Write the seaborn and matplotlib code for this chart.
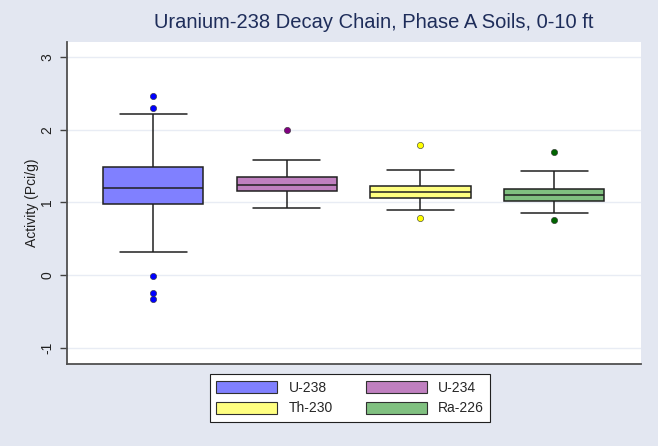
import numpy as np
import pandas as pd
import matplotlib
matplotlib.use("Agg")
import matplotlib.pyplot as plt
import seaborn as sns
from matplotlib.patches import Patch

# values (chosen so the box stats match)
nuclides = ["U-238", "U-234", "Th-230", "Ra-226"]
u238 = [-0.33, -0.24, -0.01, 0.32, 0.98, 1.05, 1.12, 1.16, 1.20,
        1.27, 1.35, 1.42, 1.49, 1.75, 2.22, 2.30, 2.46]
u234 = [0.92, 1.05, 1.155, 1.20, 1.24, 1.30, 1.35, 1.58, 1.99]
th230 = [0.78, 0.89, 1.06, 1.10, 1.14, 1.18, 1.22, 1.45, 1.79]
ra226 = [0.76, 0.85, 1.02, 1.06, 1.10, 1.14, 1.185, 1.43, 1.70]

fills = ["#8080FF", "#C080C0", "#FFFF80", "#80C080"]
flier_cols = ["#0000FF", "#800080", "#FFFF00", "#006400"]
bg = "#E3E7F1"

df = pd.DataFrame({
    "nuclide": np.repeat(nuclides, [len(u238), len(u234), len(th230), len(ra226)]),
    "activity": u238 + u234 + th230 + ra226,
})

sns.set_style("white")
plt.rcParams["font.family"] = ["Liberation Sans", "DejaVu Sans"]

fig = plt.figure(figsize=(6.58, 4.46), dpi=100)
fig.patch.set_facecolor(bg)
ax = fig.add_axes([67 / 658, 1 - 364 / 446, 574 / 658, 322 / 446])
ax.set_facecolor("white")

for n, fc, oc in zip(nuclides, fills, flier_cols):
    sns.boxplot(data=df[df.nuclide == n], x="nuclide", y="activity",
                order=nuclides, color=fc, width=0.75, whis=1.5,
                capwidths=0.5, linecolor="#202020", linewidth=1.1,
                saturation=1,
                flierprops=dict(marker="o", markersize=4.5,
                                markerfacecolor=oc, markeredgecolor="#303030",
                                markeredgewidth=0.4),
                ax=ax)

ax.set_xlim(-0.645, 3.65)
ax.set_ylim(-1.22, 3.206)
ax.set_yticks([-1, 0, 1, 2, 3])
ax.set_yticklabels(["-1", "0", "1", "2", "3"], rotation=90, va="center",
                   fontsize=10, color="#202020")
ax.set_xticks([])
ax.set_xlabel("")
ax.set_ylabel("Activity (Pci/g)", fontsize=10, color="#202020", labelpad=1)
ax.tick_params(axis="y", length=5, width=1, color="#404040", left=True, pad=4)
ax.yaxis.grid(True, color="#E8ECF4", linewidth=1)
ax.set_axisbelow(True)
for s in ["top", "right"]:
    ax.spines[s].set_visible(False)
for s in ["left", "bottom"]:
    ax.spines[s].set_color("#505050")
    ax.spines[s].set_linewidth(1.3)

fig.text(374 / 658, 1 - 22 / 446, "Uranium-238 Decay Chain, Phase A Soils, 0-10 ft",
         ha="center", va="center", fontsize=14.5, color="#1E2D5A")

# legend fills row by row in the reference
order = [0, 2, 1, 3]
handles = [Patch(facecolor=fills[i], edgecolor="#303030", linewidth=0.8) for i in order]
labels = [nuclides[i] for i in order]
leg = fig.legend(handles, labels, ncol=2, loc="center left",
                 bbox_to_anchor=(210 / 658, 1 - 398 / 446), borderaxespad=0,
                 fontsize=10, frameon=True, fancybox=False,
                 edgecolor="#202020", facecolor="white", framealpha=1,
                 handlelength=4.4, handleheight=0.95, columnspacing=2.4,
                 handletextpad=0.8, labelspacing=0.5, borderpad=0.45)
leg.get_frame().set_linewidth(0.8)

fig.savefig("out.png", dpi=100, facecolor=bg)
